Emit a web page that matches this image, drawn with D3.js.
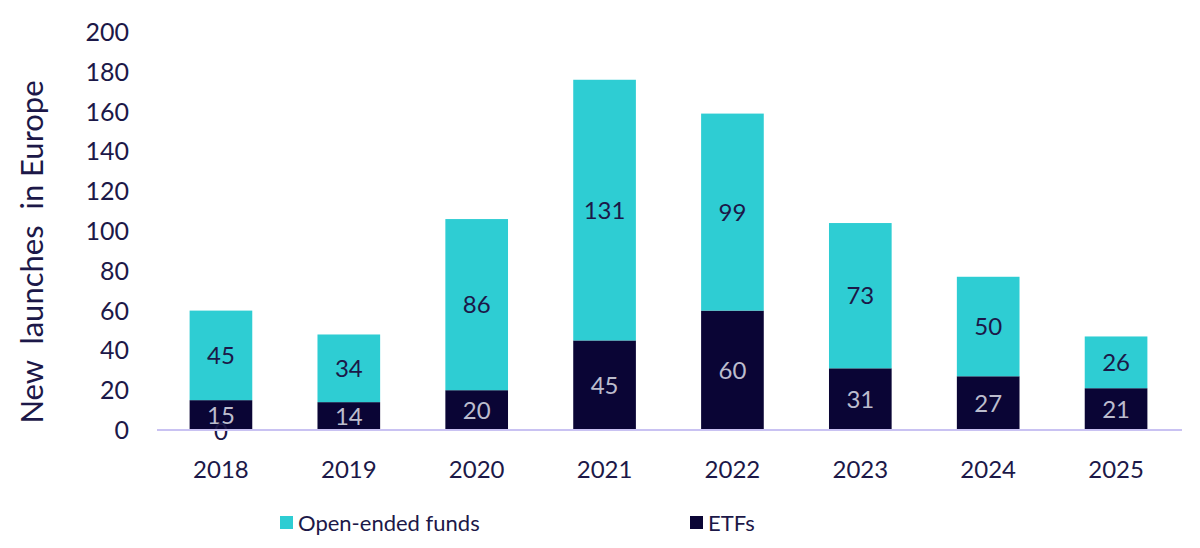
<!DOCTYPE html>
<html>
<head>
<meta charset="utf-8">
<script src="https://cdn.jsdelivr.net/npm/d3@7"></script>
<style>
  body { margin: 0; background: #fff; }
  svg { display: block; font-family: Lato, "Noto Sans", sans-serif; }
</style>
</head>
<body>
<svg id="chart" width="1200" height="548"></svg>
<script>
/************** Data **************/
const years = ["2018", "2019", "2020", "2021", "2022", "2023", "2024", "2025"];
const etfs = [15, 14, 20, 45, 60, 31, 27, 21];
const openEnded = [45, 34, 86, 131, 99, 73, 50, 26];
const otherVals = [0, null, null, null, null, null, null, null];   // stray "0" label in 2018
const yTicks = [0, 20, 40, 60, 80, 100, 120, 140, 160, 180, 200];

const colOpen = "#2ecdd3";
const colEtf = "#0a0535";
const textCol = "#1c1848";

const svg = d3.select("#chart");

const x = d3.scaleBand().domain(years).range([157, 1180]).paddingInner(0.51).paddingOuter(0.255);
const y = d3.scaleLinear().domain([0, 200]).range([430, 32]);

const rows = years.map((yr, i) => ({ yr, etf: etfs[i], open: openEnded[i], other: otherVals[i] }));

/* y tick labels (no axis line) */
svg.append("g").selectAll("text")
  .data(yTicks)
  .join("text")
    .attr("x", 129).attr("y", d => y(d))
    .attr("dy", "0.36em")
    .attr("text-anchor", "end")
    .attr("fill", textCol)
    .style("font-size", "25px")
    .text(d => d);

svg.append("text")
  .attr("transform", "translate(43,252) rotate(-90)")
  .attr("text-anchor", "middle")
  .attr("fill", textCol)
  .style("font-size", "31px")
  .style("white-space", "pre")
  .text("New  launches  in Europe");

/* bars */
const g = svg.append("g");
g.selectAll("rect.etf")
  .data(rows)
  .join("rect")
    .attr("class", "etf")
    .attr("x", d => x(d.yr)).attr("width", x.bandwidth())
    .attr("y", d => y(d.etf)).attr("height", d => y(0) - y(d.etf))
    .attr("fill", colEtf);

g.selectAll("rect.open")
  .data(rows)
  .join("rect")
    .attr("class", "open")
    .attr("x", d => x(d.yr)).attr("width", x.bandwidth())
    .attr("y", d => y(d.etf + d.open)).attr("height", d => y(d.etf) - y(d.etf + d.open))
    .attr("fill", colOpen);

/* baseline */
svg.append("line")
  .attr("x1", 157).attr("x2", 1182)
  .attr("y1", y(0)).attr("y2", y(0))
  .attr("stroke", "#c9c2f2").attr("stroke-width", 2);

/* labels */
g.selectAll("text.etf")
  .data(rows)
  .join("text")
    .attr("class", "etf")
    .attr("x", d => x(d.yr) + x.bandwidth() / 2)
    .attr("y", d => y(d.etf / 2))
    .attr("dy", "0.36em")
    .attr("text-anchor", "middle")
    .attr("fill", "#bcbccd")
    .style("font-size", "24px")
    .text(d => d.etf);

g.selectAll("text.open")
  .data(rows)
  .join("text")
    .attr("class", "open")
    .attr("x", d => x(d.yr) + x.bandwidth() / 2)
    .attr("y", d => y(d.etf + d.open / 2))
    .attr("dy", "0.36em")
    .attr("text-anchor", "middle")
    .attr("fill", textCol)
    .style("font-size", "24px")
    .text(d => d.open);

g.selectAll("text.other")
  .data(rows.filter(d => d.other !== null))
  .join("text")
    .attr("class", "other")
    .attr("x", d => x(d.yr) + x.bandwidth() / 2)
    .attr("y", d => y(d.other) + 1)
    .attr("dy", "0.36em")
    .attr("text-anchor", "middle")
    .attr("fill", textCol)
    .style("font-size", "24px")
    .text(d => d.other);

/* x labels */
svg.append("g").selectAll("text")
  .data(years)
  .join("text")
    .attr("x", d => x(d) + x.bandwidth() / 2)
    .attr("y", 478)
    .attr("text-anchor", "middle")
    .attr("fill", textCol)
    .style("font-size", "24px")
    .text(d => d);

/* legend */
const legend = [
  { label: "Open-ended funds", color: colOpen, x: 280 },
  { label: "ETFs", color: colEtf, x: 690 }
];
const lg = svg.append("g").selectAll("g")
  .data(legend)
  .join("g")
    .attr("transform", d => `translate(${d.x},523)`);
lg.append("rect")
  .attr("x", 0).attr("y", -7).attr("width", 13).attr("height", 13)
  .attr("fill", d => d.color);
lg.append("text")
  .attr("x", 18).attr("y", 0)
  .attr("dy", "0.36em")
  .attr("fill", textCol)
  .style("font-size", "22px")
  .text(d => d.label);
</script>
</body>
</html>
